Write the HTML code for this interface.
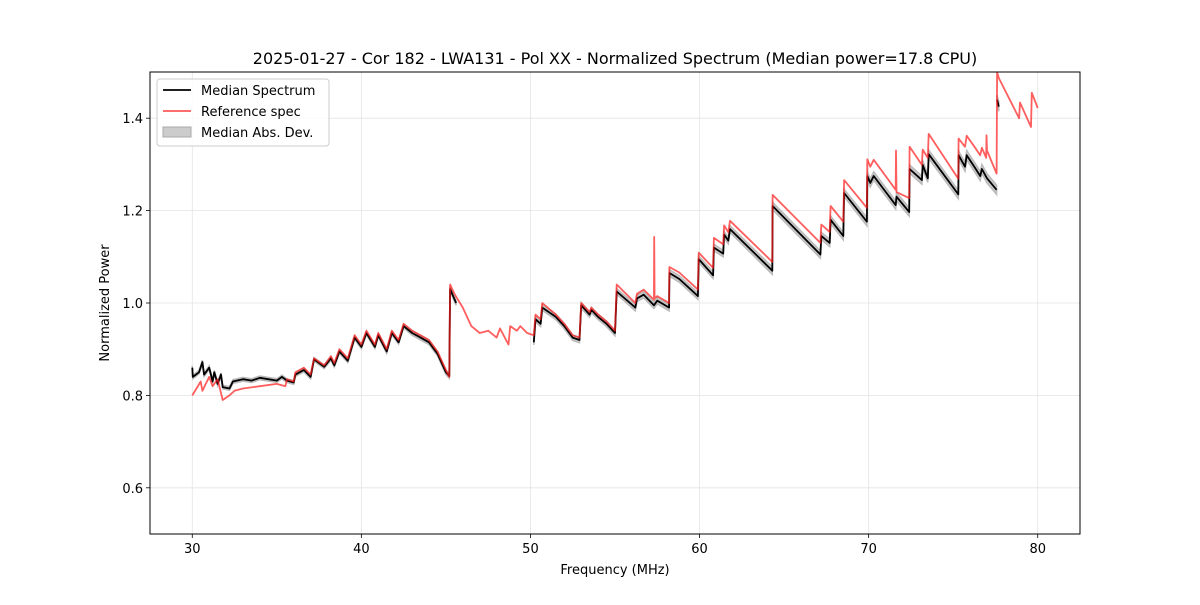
<!DOCTYPE html>
<html><head><meta charset="utf-8"><style>
body{margin:0;background:#fff;font-family:"Liberation Sans","DejaVu Sans",sans-serif}
svg text{font-family:"DejaVu Sans","Liberation Sans",sans-serif}
</style></head><body>
<svg id="chart" width="1200" height="600" viewBox="0 0 1200 600">
<rect x="0" y="0" width="1200" height="600" fill="#fff"/>
<text x="615" y="64" text-anchor="middle" font-size="16">2025-01-27 - Cor 182 - LWA131 - Pol XX - Normalized Spectrum (Median power=17.8 CPU)</text>
<g id="grid"></g><g id="band"></g><g id="lines"></g><g id="axes"></g>
<text x="615" y="574" text-anchor="middle" font-size="13">Frequency (MHz)</text>
<text transform="translate(109,303) rotate(-90)" text-anchor="middle" font-size="13">Normalized Power</text>
<g>
<rect x="157" y="79" width="172" height="67" fill="#fff" fill-opacity="0.8" stroke="#ccc" rx="3"/>
<line x1="163" y1="90" x2="191" y2="90" stroke="#000" stroke-width="1.8"/>
<text x="201" y="95" font-size="13">Median Spectrum</text>
<line x1="163" y1="111" x2="191" y2="111" stroke="#ff5a5a" stroke-width="1.8"/>
<text x="201" y="116" font-size="13">Reference spec</text>
<rect x="163" y="127" width="28" height="10" fill="#ccc" stroke="#aaa"/>
<text x="201" y="137" font-size="13">Median Abs. Dev.</text>
</g>
</svg>
<script>
const refF=[30,30.5,30.6,31,31.2,31.5,31.8,32.2,32.5,33,34,35,35.5,35.6,36,36.1,36.6,37,37.2,37.8,38.2,38.4,38.7,39.2,39.6,40,40.3,40.8,41,41.5,41.8,42.2,42.5,43,43.5,44,44.5,45,45.2,45.25,45.5,46,46.5,47,47.5,48,48.2,48.7,48.8,49.2,49.4,49.8,50.2,50.3,50.6,50.7,51.5,52,52.5,52.9,53,53.5,53.6,54,54.5,55,55.1,56.2,56.3,56.7,57.3,57.32,57.34,57.5,58.2,58.22,58.8,59.9,59.95,60.8,60.85,61.4,61.45,61.7,61.8,64.3,64.32,67.15,67.2,67.7,67.75,68.5,68.55,69.9,69.92,70.1,70.3,71.6,71.62,71.65,72.4,72.42,73.15,73.2,73.5,73.55,75.3,75.32,75.7,75.8,76.3,76.6,76.7,76.95,76.97,77.0,77.57,77.6,77.7,78.9,78.95,79.6,79.65,80.0];
const refV=[0.80,0.83,0.81,0.84,0.82,0.835,0.79,0.80,0.81,0.815,0.82,0.825,0.82,0.835,0.83,0.85,0.86,0.845,0.88,0.865,0.885,0.87,0.90,0.88,0.93,0.91,0.94,0.91,0.935,0.90,0.94,0.92,0.955,0.94,0.93,0.92,0.895,0.855,0.84,1.04,1.02,0.99,0.95,0.935,0.94,0.925,0.945,0.91,0.95,0.94,0.95,0.935,0.93,0.975,0.965,1.00,0.975,0.955,0.93,0.925,1.00,0.98,0.99,0.975,0.96,0.94,1.04,1.0,1.02,1.029,1.007,1.143,1.01,1.015,1.0,1.078,1.066,1.029,1.109,1.076,1.141,1.127,1.168,1.153,1.178,1.089,1.234,1.13,1.17,1.154,1.21,1.176,1.266,1.206,1.311,1.295,1.31,1.245,1.33,1.24,1.227,1.338,1.299,1.332,1.314,1.366,1.269,1.356,1.338,1.362,1.336,1.32,1.336,1.314,1.363,1.33,1.28,1.5,1.487,1.40,1.434,1.381,1.455,1.422];
const medF=[30,30.03,30.4,30.6,30.7,31.0,31.2,31.3,31.5,31.7,31.8,32.2,32.4,33,33.5,34,35,35.3,35.6,36,36.1,36.6,37,37.2,37.8,38.2,38.4,38.7,39.2,39.6,40,40.3,40.8,41,41.5,41.8,42.2,42.5,43,43.5,44,44.5,45,45.2,45.25,45.6,null,50.2,50.3,50.6,50.7,51.5,52,52.5,52.9,53,53.5,53.6,54,54.5,55,55.1,56.2,56.3,56.7,57.3,57.5,58.2,58.22,58.8,59.9,59.95,60.8,60.85,61.4,61.45,61.7,61.8,64.3,64.32,67.15,67.2,67.7,67.75,68.5,68.55,69.9,69.92,70.1,70.3,71.6,71.65,72.4,72.42,73.15,73.2,73.5,73.55,75.3,75.32,75.7,75.8,76.3,76.6,76.7,77.0,77.57,null,77.6,77.7];
const medV=[0.86,0.84,0.85,0.872,0.845,0.86,0.83,0.85,0.825,0.845,0.818,0.815,0.83,0.835,0.832,0.838,0.832,0.84,0.832,0.828,0.845,0.855,0.84,0.878,0.862,0.88,0.865,0.895,0.875,0.925,0.905,0.935,0.905,0.93,0.895,0.935,0.915,0.95,0.935,0.925,0.915,0.89,0.85,0.842,1.03,1.0,null,0.915,0.965,0.955,0.99,0.97,0.95,0.925,0.92,0.995,0.975,0.985,0.97,0.955,0.935,1.025,0.99,1.01,1.018,0.995,1.005,0.99,1.065,1.052,1.015,1.095,1.06,1.12,1.107,1.148,1.135,1.16,1.07,1.21,1.105,1.145,1.13,1.18,1.145,1.238,1.176,1.275,1.26,1.275,1.212,1.23,1.197,1.29,1.266,1.299,1.27,1.322,1.235,1.32,1.295,1.32,1.292,1.275,1.29,1.27,1.245,null,1.44,1.425];
const madHalf=[0.004,0.004,0.005,0.006,0.007,0.008,0.009,0.01];
const xTicks=[30,40,50,60,70,80];
const yTicks=[0.6,0.8,1.0,1.2,1.4];
const X0=150,X1=1080,Y0=72,Y1=534,xmin=27.5,xmax=82.5,ymin=0.5,ymax=1.5;
const xs=f=>X0+(f-xmin)/(xmax-xmin)*(X1-X0);
const ys=v=>Y1-(v-ymin)/(ymax-ymin)*(Y1-Y0);
const NS='http://www.w3.org/2000/svg';
function mk(t,p,a){const e=document.createElementNS(NS,t);for(const k in a)e.setAttribute(k,a[k]);p.appendChild(e);return e;}
const grid=document.getElementById('grid'),axes=document.getElementById('axes'),band=document.getElementById('band'),lines=document.getElementById('lines');
xTicks.forEach(t=>{const x=xs(t);
const g=mk('line',grid,{x1:x,x2:x,y1:Y0,y2:Y1,stroke:'#e4e4e4','stroke-width':0.8});


mk('line',axes,{x1:x,x2:x,y1:Y1,y2:Y1+4,stroke:'#000','stroke-width':0.8});
const tx=mk('text',axes,{x:x,y:Y1+19,'text-anchor':'middle','font-size':13});tx.textContent=t;

});
yTicks.forEach(t=>{const y=ys(t);
const g=mk('line',grid,{x1:X0,x2:X1,y1:y,y2:y,stroke:'#e4e4e4','stroke-width':0.8});


mk('line',axes,{x1:X0-4,x2:X0,y1:y,y2:y,stroke:'#000','stroke-width':0.8});
const tx=mk('text',axes,{x:X0-7,y:y+5,'text-anchor':'end','font-size':13});tx.textContent=t.toFixed(1);

});
const fr=mk('rect',axes,{x:X0,y:Y0,width:X1-X0,height:Y1-Y0,fill:'none',stroke:'#000','stroke-width':1});


function segs(F,V){const out=[];let cur=[];F.forEach((f,i)=>{if(f===null){if(cur.length)out.push(cur);cur=[];}else cur.push([f,V[i]]);});if(cur.length)out.push(cur);return out;}
function mad(f){const i=Math.min(madHalf.length-1,Math.max(0,Math.floor((f-30)/6.5)));return madHalf[i];}
segs(medF,medV).forEach(s=>{
const up=s.map(p=>xs(p[0]).toFixed(1)+','+ys(p[1]+mad(p[0])).toFixed(1));
const dn=s.slice().reverse().map(p=>xs(p[0]).toFixed(1)+','+ys(p[1]-mad(p[0])).toFixed(1));
const b=mk('polygon',band,{points:up.concat(dn).join(' '),fill:'#bbb','fill-opacity':0.8,stroke:'#bbb','stroke-width':1.5});


const l=mk('polyline',lines,{points:s.map(p=>xs(p[0]).toFixed(1)+','+ys(p[1]).toFixed(1)).join(' '),fill:'none',stroke:'#000','stroke-width':1.8,'stroke-linejoin':'round'});

});
const cp=mk('clipPath',lines,{id:'clip'});mk('rect',cp,{x:X0,y:Y0,width:X1-X0,height:Y1-Y0});
const r=mk('polyline',lines,{points:refF.map((f,i)=>xs(f).toFixed(1)+','+ys(refV[i]).toFixed(1)).join(' '),fill:'none',stroke:'#ff1a1a','stroke-opacity':0.7,'stroke-width':1.8,'stroke-linejoin':'round','clip-path':'url(#clip)'});


</script>
</body></html>
